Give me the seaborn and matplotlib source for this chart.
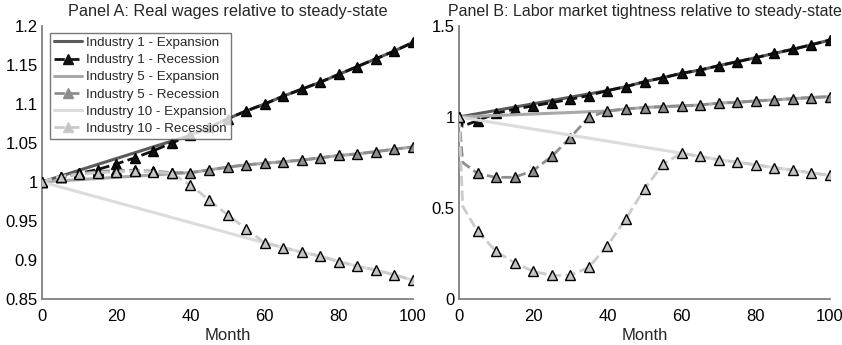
import numpy as np
import pandas as pd
import matplotlib
matplotlib.use("Agg")
import matplotlib.pyplot as plt
from matplotlib.lines import Line2D
from matplotlib.ticker import FuncFormatter
import seaborn as sns

sns.set_style("white")
plt.rcParams['font.family'] = ['Liberation Sans', 'DejaVu Sans']

# ---------------- data ----------------
months_rec = [0, 5, 10, 15, 20, 25, 30, 35, 40, 45, 50, 55, 60, 65, 70, 75, 80, 85, 90, 95, 100]
months_rec_b = [0, 1, 5, 10, 15, 20, 25, 30, 35, 40, 45, 50, 55, 60, 65, 70, 75, 80, 85, 90, 95, 100]

# Panel A: real wages
a_rec1 = [1.0, 1.006, 1.011, 1.016, 1.023, 1.031, 1.040, 1.050, 1.060, 1.070, 1.081, 1.091, 1.100,
          1.110, 1.119, 1.128, 1.138, 1.148, 1.158, 1.168, 1.179]
a_rec5 = [1.0, 1.007, 1.011, 1.013, 1.015, 1.015, 1.014, 1.012, 1.012, 1.0155, 1.019, 1.022, 1.024,
          1.026, 1.028, 1.031, 1.034, 1.036, 1.039, 1.042, 1.045]
a_rec10 = [1.0, 1.007, 1.010, 1.012, 1.013, 1.014, 1.013, 1.011, 0.996, 0.977, 0.958, 0.940, 0.922,
           0.916, 0.910, 0.905, 0.898, 0.892, 0.887, 0.881, 0.874]
a_exp1_m = [0, 40, 45, 50, 55, 60, 65, 70, 75, 80, 85, 90, 95, 100]
a_exp1 = [1.0, 1.060, 1.070, 1.081, 1.091, 1.100, 1.110, 1.119, 1.128, 1.138, 1.148, 1.158, 1.168, 1.179]
a_exp5_m = [0, 40, 45, 50, 55, 60, 65, 70, 75, 80, 85, 90, 95, 100]
a_exp5 = [1.0, 1.012, 1.0155, 1.019, 1.022, 1.024, 1.026, 1.028, 1.031, 1.034, 1.036, 1.039, 1.042, 1.045]
a_exp10_m = [0, 60, 65, 70, 75, 80, 85, 90, 95, 100]
a_exp10 = [1.0, 0.922, 0.916, 0.910, 0.905, 0.898, 0.892, 0.887, 0.881, 0.874]

# Panel B: labor market tightness
b_rec1 = [1.0, 0.95, 0.98, 1.02, 1.043, 1.061, 1.079, 1.097, 1.118, 1.145, 1.167, 1.194, 1.216, 1.240,
          1.258, 1.282, 1.304, 1.326, 1.350, 1.372, 1.397, 1.423]
b_rec5 = [1.0, 0.75, 0.690, 0.668, 0.669, 0.706, 0.783, 0.887, 0.999, 1.033, 1.044, 1.052, 1.057, 1.061,
          1.066, 1.076, 1.081, 1.088, 1.094, 1.101, 1.107, 1.112]
b_rec10 = [1.0, 0.51, 0.371, 0.262, 0.198, 0.152, 0.130, 0.130, 0.174, 0.293, 0.441, 0.605, 0.741, 0.801,
           0.783, 0.765, 0.752, 0.737, 0.722, 0.708, 0.693, 0.679]
b_exp1_m = [0, 40, 45, 50, 55, 60, 65, 70, 75, 80, 85, 90, 95, 100]
b_exp1 = [1.0, 1.145, 1.167, 1.194, 1.216, 1.240, 1.258, 1.282, 1.304, 1.326, 1.350, 1.372, 1.397, 1.423]
b_exp5_m = [0, 40, 45, 50, 55, 60, 65, 70, 75, 80, 85, 90, 95, 100]
b_exp5 = [1.0, 1.033, 1.044, 1.052, 1.057, 1.061, 1.066, 1.076, 1.081, 1.088, 1.094, 1.101, 1.107, 1.112]
b_exp10_m = [0, 60, 65, 70, 75, 80, 85, 90, 95, 100]
b_exp10 = [1.0, 0.801, 0.783, 0.765, 0.752, 0.737, 0.722, 0.708, 0.693, 0.679]

labels = ["Industry 1 - Expansion", "Industry 1 - Recession",
          "Industry 5 - Expansion", "Industry 5 - Recession",
          "Industry 10 - Expansion", "Industry 10 - Recession"]
titles = ["Panel A: Real wages relative to steady-state",
          "Panel B: Labor market tightness relative to steady-state"]

# ---------------- styles ----------------
exp_colors = ["#5a5a5a", "#a8a8a8", "#dcdcdc"]
rec_colors = ["#111111", "#8e8e8e", "#cbcbcb"]
rec_face = ["#111111", "#8e8e8e", "#c4c4c4"]

fig = plt.figure(figsize=(8.42, 3.45), dpi=100)
axA = fig.add_axes([42 / 842, 46 / 345, 371 / 842, 273 / 345])
axB = fig.add_axes([459 / 842, 46 / 345, 371 / 842, 273 / 345])

panels = [
    (axA, [(a_exp1_m, a_exp1), (a_exp5_m, a_exp5), (a_exp10_m, a_exp10)],
     [(months_rec, a_rec1), (months_rec, a_rec5), (months_rec, a_rec10)], (0.85, 1.2),
     [0.85, 0.9, 0.95, 1.0, 1.05, 1.1, 1.15, 1.2]),
    (axB, [(b_exp1_m, b_exp1), (b_exp5_m, b_exp5), (b_exp10_m, b_exp10)],
     [(months_rec_b, b_rec1), (months_rec_b, b_rec5), (months_rec_b, b_rec10)], (0, 1.5),
     [0, 0.5, 1.0, 1.5]),
]

for ax, exps, recs, ylim, yticks in panels:
    for i in range(3):
        xm, ym = exps[i]
        sns.lineplot(x=xm, y=ym, ax=ax, color=exp_colors[i], lw=2.2, legend=False,
                     sort=False, estimator=None, zorder=2 + 2 * i)
        xr, yr = recs[i]
        mk = [j for j, m in enumerate(xr) if m % 5 == 0]
        sns.lineplot(x=xr, y=yr, ax=ax, color=rec_colors[i], lw=2.0, linestyle="--",
                     marker="^", markevery=mk, markersize=7.5, markerfacecolor=rec_face[i],
                     markeredgecolor="black", markeredgewidth=1.0, legend=False,
                     sort=False, estimator=None, zorder=3 + 2 * i)
    ax.set_xlim(0, 100)
    ax.set_ylim(*ylim)
    ax.set_xticks([0, 20, 40, 60, 80, 100])
    ax.set_yticks(yticks)
    ax.yaxis.set_major_formatter(FuncFormatter(lambda v, p: "%g" % round(v, 4)))
    ax.set_xlabel("Month", fontsize=12, labelpad=3)
    ax.set_ylabel("")
    for s in ["top", "right"]:
        ax.spines[s].set_visible(False)
    for s in ["left", "bottom"]:
        ax.spines[s].set_color("#808080")
        ax.spines[s].set_linewidth(1.3)
    ax.tick_params(direction="in", length=4, width=1, color="#808080",
                   labelsize=12, labelcolor="black")
    ax.tick_params(axis="x", pad=7)
    ax.tick_params(axis="y", pad=3)

axA.set_title(titles[0], fontsize=11.7, pad=7)
axB.set_title(titles[1], fontsize=11.5, pad=7)

handles = []
for i in range(3):
    handles.append(Line2D([], [], color=exp_colors[i], lw=2.2))
    handles.append(Line2D([], [], color=rec_colors[i], lw=2.0, linestyle="--", marker="^",
                          markersize=6.5, markerfacecolor=rec_face[i], markeredgecolor=rec_colors[i]))
leg = axA.legend(handles, labels, loc="upper left", bbox_to_anchor=(0.022, 0.975), fontsize=9.6,
                 frameon=True, fancybox=False, edgecolor="#555555", borderpad=0.3,
                 labelspacing=0.36, handlelength=2.1, handletextpad=0.3, borderaxespad=0)
leg.get_frame().set_linewidth(1.0)

fig.savefig("out.png", dpi=100)
